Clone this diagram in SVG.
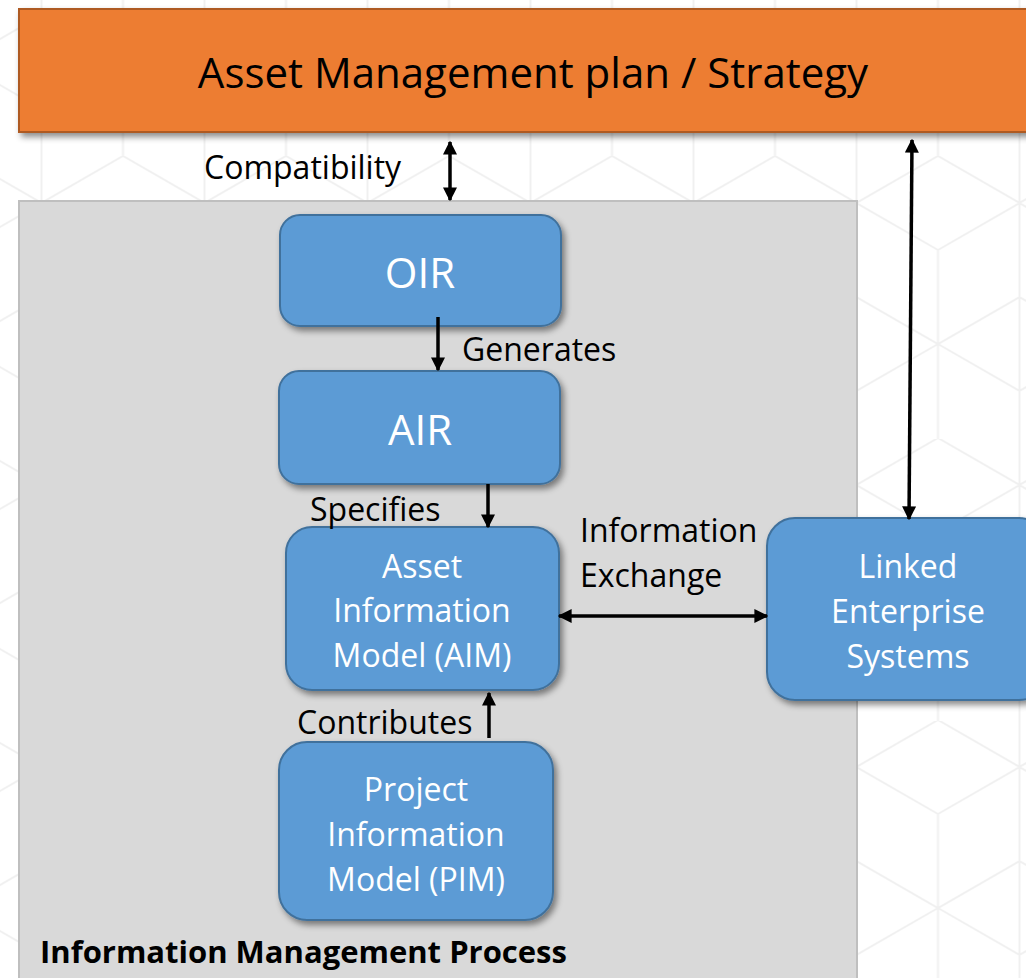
<svg xmlns="http://www.w3.org/2000/svg" width="1026" height="978" viewBox="0 0 1026 978">
<style>
.bg{fill:#ffffff}
.hex{fill:none;stroke:#f0f0f0;stroke-width:2}
.node{fill:#5B9BD5;stroke:#41719C;stroke-width:2}
.ntext{font-family:"Open Sans","Noto Sans",sans-serif;fill:#ffffff;text-anchor:middle}
.label{font-family:"Open Sans","Noto Sans",sans-serif;fill:#000000;font-size:32px}
.conn{stroke:#000000;stroke-width:3.5;fill:none}
</style>
<defs>
<pattern id="tumble" patternUnits="userSpaceOnUse" x="856.5" y="156" width="163" height="282">
<path class="hex" d="M81.5,0 L163,47 L163,141 L81.5,188 L0,141 L0,47 Z M81.5,94 L0,47 M81.5,94 L163,47 M81.5,94 L81.5,188 M0,235 L-81.5,188 M0,235 L81.5,188 M0,235 L0,329 M163,235 L81.5,188 M163,235 L244.5,188 M163,235 L163,329 M81.5,188 L81.5,282 M0,141 L0,235 M163,141 L163,235 M0,-47 L0,47 M163,-47 L163,47"/>
</pattern>
<filter id="shadow" x="-10%" y="-10%" width="125%" height="130%">
<feDropShadow dx="3" dy="4" stdDeviation="3" flood-color="#000000" flood-opacity="0.45"/>
</filter>
<marker id="ah" viewBox="0 0 10 10" refX="9" refY="5" markerWidth="4" markerHeight="4" orient="auto-start-reverse" markerUnits="strokeWidth">
<path d="M0,0 L10,5 L0,10 Z" fill="#000000"/>
</marker>
</defs>
<rect class="bg" x="0" y="0" width="1026" height="978"/>
<rect x="0" y="0" width="1026" height="978" fill="url(#tumble)"/>

<g id="container">
<rect x="19" y="201" width="838" height="790" fill="#D9D9D9" stroke="#BFBFBF" stroke-width="2"/>
<text x="40" y="963" style="font-family:'Open Sans','Noto Sans',sans-serif;font-weight:bold;font-size:31px;fill:#000">Information Management Process</text>
</g>

<g id="strategy">
<rect x="19" y="9" width="1020" height="123" fill="#ED7D31" stroke="#AE5A21" stroke-width="2" filter="url(#shadow)"/>
<text x="533" y="88" style="font-family:'Open Sans','Noto Sans',sans-serif;font-size:42px;fill:#000;text-anchor:middle">Asset Management plan / Strategy</text>
</g>

<g id="oir">
<rect class="node" x="280" y="215" width="281" height="111" rx="20" filter="url(#shadow)"/>
<text class="ntext" x="420" y="288" font-size="42">OIR</text>
</g>

<g id="air">
<rect class="node" x="279" y="371" width="281" height="113" rx="20" filter="url(#shadow)"/>
<text class="ntext" x="420" y="445" font-size="42">AIR</text>
</g>

<g id="aim">
<rect class="node" x="286" y="527" width="273" height="163" rx="26" filter="url(#shadow)"/>
<text class="ntext" x="422" y="578" font-size="32">Asset</text>
<text class="ntext" x="422" y="622" font-size="32">Information</text>
<text class="ntext" x="422" y="667" font-size="32">Model (AIM)</text>
</g>

<g id="linked">
<rect class="node" x="767" y="518" width="280" height="182" rx="28" filter="url(#shadow)"/>
<text class="ntext" x="908" y="578" font-size="32">Linked</text>
<text class="ntext" x="908" y="623" font-size="32">Enterprise</text>
<text class="ntext" x="908" y="668" font-size="32">Systems</text>
</g>

<g id="pim">
<rect class="node" x="279" y="742" width="274" height="178" rx="28" filter="url(#shadow)"/>
<text class="ntext" x="416" y="801" font-size="32">Project</text>
<text class="ntext" x="416" y="846" font-size="32">Information</text>
<text class="ntext" x="416" y="891" font-size="32">Model (PIM)</text>
</g>

<g id="connectors">
<line class="conn" x1="450" y1="142" x2="450" y2="200" marker-start="url(#ah)" marker-end="url(#ah)"/>
<line class="conn" x1="438" y1="317" x2="438" y2="370" marker-end="url(#ah)"/>
<line class="conn" x1="488" y1="484" x2="488" y2="527" marker-end="url(#ah)"/>
<line class="conn" x1="559" y1="616" x2="767" y2="616" marker-start="url(#ah)" marker-end="url(#ah)"/>
<line class="conn" x1="912" y1="140" x2="909" y2="519" marker-start="url(#ah)" marker-end="url(#ah)"/>
<line class="conn" x1="489" y1="738" x2="489" y2="693" marker-end="url(#ah)"/>
</g>

<g id="labels">
<text class="label" x="204" y="179">Compatibility</text>
<text class="label" x="462" y="361">Generates</text>
<text class="label" x="310" y="521">Specifies</text>
<text class="label" x="580" y="542">Information</text>
<text class="label" x="580" y="587">Exchange</text>
<text class="label" x="297" y="734">Contributes</text>
</g>
</svg>
